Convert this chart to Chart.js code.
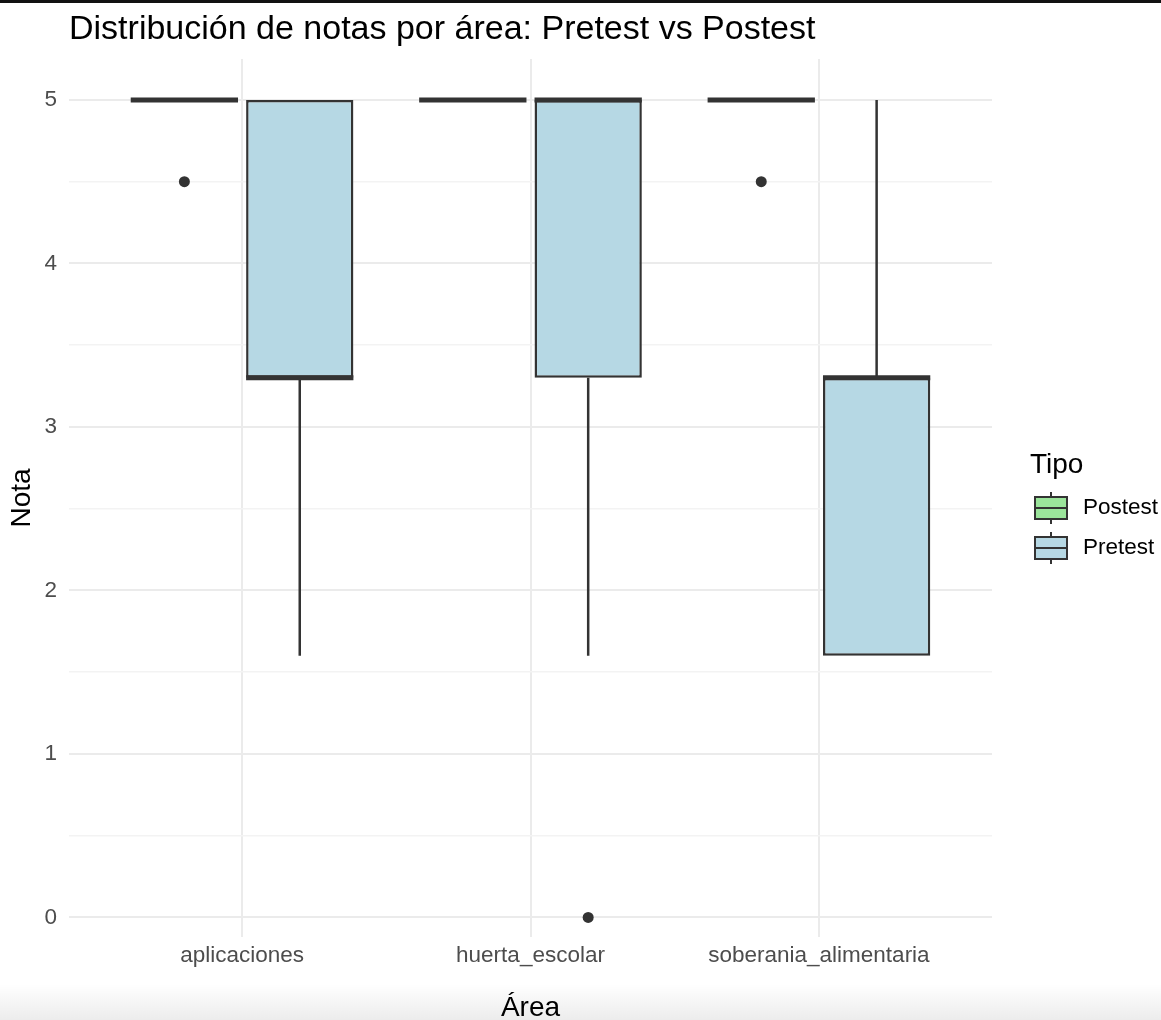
<!DOCTYPE html>
<html>
<head>
<meta charset="utf-8">
<title>Distribución de notas por área</title>
<script src="https://cdn.jsdelivr.net/npm/chart.js@4.4.1/dist/chart.umd.min.js"></script>
<style>
  html, body { margin: 0; padding: 0; background: #fff; }
  #wrap { position: relative; width: 1161px; height: 1020px; overflow: hidden; }
  #topBar { position: absolute; left: 0; top: 0; width: 1161px; height: 3px; background: #111; z-index: 2; }
  #shade { position: absolute; left: 0; top: 984px; width: 1161px; height: 36px;
    background: linear-gradient(to bottom, rgba(0,0,0,0), rgba(0,0,0,0.075)); z-index: 0; }
  #chart { position: absolute; left: 0; top: 0; z-index: 1; }
</style>
</head>
<body>
<div id="wrap">
  <div id="shade"></div>
  <canvas id="chart" width="1161" height="1020"></canvas>
  <div id="topBar"></div>
</div>
<script>
// categories
const areas = ["aplicaciones", "huerta_escolar", "soberania_alimentaria"];

// Postest box stats per area
const postLow = [5, 5, 5];
const postQ1 = [5, 5, 5];
const postMedian = [5, 5, 5];
const postQ3 = [5, 5, 5];
const postHigh = [5, 5, 5];
const postOutliers = [[4.5], [], [4.5]];

// Pretest box stats per area
const preLow = [1.6, 1.6, 1.6];
const preQ1 = [3.3, 3.3, 1.6];
const preMedian = [3.3, 5, 3.3];
const preQ3 = [5, 5, 3.3];
const preHigh = [5, 5, 5];
const preOutliers = [[], [0], []];

const yTicks = [0, 1, 2, 3, 4, 5];

const FONT = "'Liberation Sans', Arial, Helvetica, sans-serif";
const INK = "#333333";

const series = [
  { name: "Postest", color: "#9BE59B", low: postLow, q1: postQ1, med: postMedian, q3: postQ3, high: postHigh, out: postOutliers },
  { name: "Pretest", color: "#B6D8E4", low: preLow, q1: preQ1, med: preMedian, q3: preQ3, high: preHigh, out: preOutliers },
];

// whiskers, medians and outliers on top of the floating bars
const boxExtras = {
  id: "boxExtras",
  afterDatasetsDraw(chart) {
    const ctx = chart.ctx;
    const y = chart.scales.y;
    series.forEach((s, d) => {
      const meta = chart.getDatasetMeta(d);
      meta.data.forEach((bar, i) => {
        const half = bar.width / 2;
        ctx.save();
        ctx.strokeStyle = INK;
        ctx.lineCap = "butt";
        ctx.lineWidth = 2.5;
        ctx.beginPath();
        ctx.moveTo(bar.x, y.getPixelForValue(s.q3[i]));
        ctx.lineTo(bar.x, y.getPixelForValue(s.high[i]));
        ctx.moveTo(bar.x, y.getPixelForValue(s.q1[i]));
        ctx.lineTo(bar.x, y.getPixelForValue(s.low[i]));
        ctx.stroke();
        ctx.lineWidth = 5;
        ctx.beginPath();
        ctx.moveTo(bar.x - half, y.getPixelForValue(s.med[i]));
        ctx.lineTo(bar.x + half, y.getPixelForValue(s.med[i]));
        ctx.stroke();
        ctx.fillStyle = INK;
        s.out[i].forEach((v) => {
          ctx.beginPath();
          ctx.arc(bar.x, y.getPixelForValue(v), 5.5, 0, Math.PI * 2);
          ctx.fill();
        });
        ctx.restore();
      });
    });
  },
};

// ggplot-like legend on the right
const boxLegend = {
  id: "boxLegend",
  afterDraw(chart) {
    const ctx = chart.ctx;
    const left = chart.chartArea.right + 38;
    ctx.save();
    ctx.fillStyle = "#000";
    ctx.textBaseline = "middle";
    ctx.textAlign = "left";
    ctx.font = "28px " + FONT;
    ctx.fillText("Tipo", left, 465);
    series.forEach((s, k) => {
      const cy = 508 + k * 40;
      const bx = left + 5;
      ctx.fillStyle = s.color;
      ctx.fillRect(bx, cy - 11, 32, 22);
      ctx.strokeStyle = INK;
      ctx.lineWidth = 2;
      ctx.strokeRect(bx, cy - 11, 32, 22);
      ctx.beginPath();
      ctx.moveTo(bx, cy);
      ctx.lineTo(bx + 32, cy);
      ctx.moveTo(bx + 16, cy - 16);
      ctx.lineTo(bx + 16, cy - 11);
      ctx.moveTo(bx + 16, cy + 11);
      ctx.lineTo(bx + 16, cy + 16);
      ctx.stroke();
      ctx.fillStyle = "#000";
      ctx.font = "22.5px " + FONT;
      ctx.fillText(s.name, left + 53, cy);
    });
    ctx.restore();
  },
};

const datasets = series.map((s) => ({
  label: s.name,
  data: areas.map((a, i) => ({ x: i + 1, y: [s.q1[i], s.q3[i]] })),
  backgroundColor: s.color,
  borderColor: INK,
  borderWidth: 2.5,
  borderSkipped: false,
  categoryPercentage: 0.8,
  barPercentage: 0.93,
}));

new Chart(document.getElementById("chart"), {
  type: "bar",
  data: { datasets },
  plugins: [boxExtras, boxLegend],
  options: {
    responsive: false,
    animation: false,
    events: [],
    layout: { padding: { left: 0, right: 169, top: 0, bottom: 0 } },
    plugins: {
      legend: { display: false },
      tooltip: { enabled: false },
      title: {
        display: true,
        text: "Distribución de notas por área: Pretest vs Postest",
        align: "start",
        fullSize: false,
        color: "#000",
        font: { family: FONT, size: 34, weight: "normal", lineHeight: 1 },
        padding: { top: 13, bottom: 12 },
      },
    },
    scales: {
      x: {
        type: "linear",
        min: 0.4,
        max: 3.6,
        offset: false,
        afterBuildTicks: (scale) => {
          scale.ticks = areas.map((a, i) => ({ value: i + 1 }));
        },
        afterFit: (scale) => {
          scale.height = 83;
        },
        ticks: {
          callback: (v, i) => areas[i],
          color: "#4D4D4D",
          font: { family: FONT, size: 22.5 },
          padding: 5,
          maxRotation: 0,
          autoSkip: false,
        },
        grid: { color: "#EBEBEB", lineWidth: 2, drawTicks: false, offset: false },
        border: { display: false },
        title: {
          display: true,
          text: "Área",
          color: "#000",
          font: { family: FONT, size: 28, lineHeight: 1 },
          padding: { top: 0, bottom: -2 },
        },
      },
      y: {
        type: "linear",
        min: -0.12,
        max: 5.25,
        afterBuildTicks: (scale) => {
          const t = [];
          yTicks.forEach((v) => {
            t.push({ value: v });
            if (v < 5) t.push({ value: v + 0.5 });
          });
          scale.ticks = t;
        },
        afterFit: (scale) => {
          scale.width = 69;
        },
        ticks: {
          callback: (v) => (Number.isInteger(v) ? String(v) : ""),
          color: "#4D4D4D",
          font: { family: FONT, size: 22.5 },
          padding: 12,
        },
        grid: {
          color: (c) => (Number.isInteger(c.tick.value) ? "#EBEBEB" : "#F3F3F3"),
          lineWidth: (c) => (Number.isInteger(c.tick.value) ? 2 : 1.5),
          drawTicks: false,
        },
        border: { display: false },
        title: {
          display: true,
          text: "Nota",
          color: "#000",
          font: { family: FONT, size: 28, lineHeight: 1 },
          padding: { top: 8, bottom: 0 },
        },
      },
    },
  },
});
</script>
</body>
</html>
